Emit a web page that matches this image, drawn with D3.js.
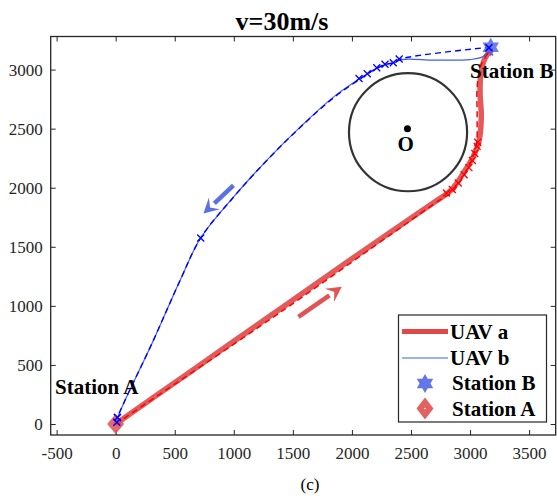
<!DOCTYPE html>
<html>
<head>
<meta charset="utf-8">
<script src="https://cdn.jsdelivr.net/npm/d3@7"></script>
<style>
  body { margin: 0; background: #fff; }
  text { font-family: "Liberation Serif", "Times New Roman", serif; }
</style>
</head>
<body>
<div id="chart"></div>
<script>
// data
var xTicks = [-500, 0, 500, 1000, 1500, 2000, 2500, 3000, 3500];
var yTicks = [0, 500, 1000, 1500, 2000, 2500, 3000];

var uavA = [[0, 0], [600, 420], [1200, 840], [1800, 1260], [2350, 1640], [2700, 1880],
    [2840, 1980], [2960, 2150], [3030, 2270], [3075, 2390], [3095, 2600], [3085, 2800],
    [3090, 2950], [3120, 3080], [3170, 3160]];
var uavAPlan = [[0, 0], [1400, 950], [2750, 1900], [2850, 1965], [2950, 2110], [3020, 2250],
    [3055, 2380], [3060, 2600], [3060, 2850], [3090, 3030], [3170, 3165]];
var uavAMarks = [[2800, 1955], [2850, 1985], [2900, 2040], [2950, 2110], [2990, 2170],
    [3020, 2230], [3040, 2290], [3060, 2350], [3065, 2385], [3165, 3150]];

var uavB = [[3175, 3190], [3110, 3110], [3000, 3085], [2700, 3080], [2420, 3085],
    [2350, 3055], [2280, 3040], [2210, 3010], [2125, 2960], [2054, 2915], [1843, 2767],
    [1561, 2513], [1279, 2232], [997, 1921], [720, 1575], [546, 1217], [320, 710],
    [15, 50], [10, 15]];
var uavBPlan = [[3175, 3190], [2420, 3092], [2350, 3058], [2280, 3043], [2210, 3012],
    [2125, 2958], [2054, 2910], [1843, 2760], [1561, 2510], [1279, 2230], [997, 1920],
    [720, 1575], [546, 1217], [320, 710], [15, 50], [10, 15]];
var uavBMarks = [[3160, 3185], [2400, 3090], [2350, 3058], [2280, 3045], [2210, 3015],
    [2130, 2965], [2060, 2925], [720, 1575], [15, 55], [10, 15]];

var stationA = [0, 0];
var stationB = [3175, 3190];
var obstacle = { cx: 2475, cy: 2470, r: 500 };
var centreO = [2470, 2500];
var arrowB = [[997, 2020], [743, 1781]];
var arrowA = [[1547, 907], [1914, 1161]];

var W = 557, H = 496;
var plotL = 50.7, plotR = 555.7, plotT = 36.5, plotB = 435;

var svg = d3.select("#chart").append("svg")
    .attr("width", W)
    .attr("height", H);

var x = d3.scaleLinear().domain([-550, 3725]).range([plotL, plotR]);
var y = d3.scaleLinear().domain([-93, 3280]).range([plotB, plotT]);

var axisColor = "#262626";
var fmt = function (d) { return String(d); };

// axes with inward ticks
var gx = svg.append("g")
    .attr("transform", "translate(0," + plotB + ")")
    .call(d3.axisBottom(x).tickValues(xTicks).tickFormat(fmt).tickSize(-5).tickSizeOuter(0).tickPadding(12));
var gy = svg.append("g")
    .attr("transform", "translate(" + plotL + ",0)")
    .call(d3.axisLeft(y).tickValues(yTicks).tickFormat(fmt).tickSize(-5).tickSizeOuter(0).tickPadding(8));
var gxt = svg.append("g")
    .attr("transform", "translate(0," + plotT + ")")
    .call(d3.axisTop(x).tickValues(xTicks).tickSize(-5).tickSizeOuter(0).tickFormat(""));
var gyr = svg.append("g")
    .attr("transform", "translate(" + plotR + ",0)")
    .call(d3.axisRight(y).tickValues(yTicks).tickSize(-5).tickSizeOuter(0).tickFormat(""));

[gx, gy, gxt, gyr].forEach(function (g) {
    g.select(".domain").remove();
    g.selectAll("line").attr("stroke", axisColor);
    g.selectAll("text").attr("fill", axisColor)
        .style("font-size", "17px")
        .style("font-family", "'Liberation Serif', serif");
});

svg.append("rect")
    .attr("x", plotL).attr("y", plotT)
    .attr("width", plotR - plotL).attr("height", plotB - plotT)
    .attr("fill", "none")
    .attr("stroke", axisColor)
    .attr("stroke-width", 1.3);

// obstacle
svg.append("circle")
    .attr("cx", x(obstacle.cx))
    .attr("cy", y(obstacle.cy))
    .attr("r", x(obstacle.cx + obstacle.r) - x(obstacle.cx))
    .attr("fill", "none")
    .attr("stroke", "#333")
    .attr("stroke-width", 2.2);
svg.append("circle")
    .attr("cx", x(centreO[0])).attr("cy", y(centreO[1]))
    .attr("r", 3.5).attr("fill", "#000");
svg.append("text")
    .attr("x", x(centreO[0]) - 10).attr("y", y(centreO[1]) + 22)
    .attr("font-weight", "bold").style("font-size", "21px")
    .text("O");

var line = d3.line()
    .x(function (d) { return x(d[0]); })
    .y(function (d) { return y(d[1]); })
    .curve(d3.curveCatmullRom.alpha(0.5));

// arrows
function arrow(pts, color) {
    var x0 = x(pts[0][0]), y0 = y(pts[0][1]), x1 = x(pts[1][0]), y1 = y(pts[1][1]);
    var a = Math.atan2(y1 - y0, x1 - x0), hl = 15, hw = 8;
    var bx = x1 - hl * Math.cos(a), by = y1 - hl * Math.sin(a);
    svg.append("line")
        .attr("x1", x0).attr("y1", y0).attr("x2", bx).attr("y2", by)
        .attr("stroke", color).attr("stroke-width", 4.5);
    svg.append("path")
        .attr("d", "M" + x1 + "," + y1 +
            "L" + (bx + hw * Math.sin(a)) + "," + (by - hw * Math.cos(a)) +
            "L" + (x1 - 0.6 * hl * Math.cos(a)) + "," + (y1 - 0.6 * hl * Math.sin(a)) +
            "L" + (bx - hw * Math.sin(a)) + "," + (by + hw * Math.cos(a)) + "Z")
        .attr("fill", color);
}
arrow(arrowB, "#5a70e4");
arrow(arrowA, "#e05454");

// UAV a
svg.append("path")
    .attr("d", line(uavA))
    .attr("fill", "none")
    .attr("stroke", "#e04848")
    .attr("stroke-opacity", 0.9)
    .attr("stroke-width", 5.5);
svg.append("path")
    .attr("d", line(uavAPlan))
    .attr("fill", "none")
    .attr("stroke", "#ff0000")
    .attr("stroke-width", 1.5)
    .attr("stroke-dasharray", "6,4");

// UAV b
svg.append("path")
    .attr("d", line(uavB))
    .attr("fill", "none")
    .attr("stroke", "#3f5ff0")
    .attr("stroke-width", 1.2);
svg.append("path")
    .attr("d", line(uavBPlan))
    .attr("fill", "none")
    .attr("stroke", "#0000ff")
    .attr("stroke-width", 1.4)
    .attr("stroke-dasharray", "6,4");

function cross(sel, pts, color) {
    sel.selectAll(null).data(pts).enter().append("path")
        .attr("d", function (d) {
            var cx = x(d[0]), cy = y(d[1]), s = 3.5;
            return "M" + (cx - s) + "," + (cy - s) + "L" + (cx + s) + "," + (cy + s) +
                "M" + (cx - s) + "," + (cy + s) + "L" + (cx + s) + "," + (cy - s);
        })
        .attr("stroke", color)
        .attr("stroke-width", 1.3);
}
cross(svg, uavAMarks, "#ff0000");
cross(svg, uavBMarks, "#0000ff");

function hexagram(cx, cy, R) {
    var r = R / Math.sqrt(3), p = [];
    for (var i = 0; i < 12; i++) {
        var rr = i % 2 === 0 ? R : r;
        var a = -Math.PI / 2 + i * Math.PI / 6;
        p.push([cx + rr * Math.cos(a), cy + rr * Math.sin(a)]);
    }
    return "M" + p.join("L") + "Z";
}
function diamond(cx, cy, w, h) {
    return "M" + cx + "," + (cy - h) + "L" + (cx + w) + "," + cy +
        "L" + cx + "," + (cy + h) + "L" + (cx - w) + "," + cy + "Z";
}

var starColor = "#5468e6", diaColor = "#e05050";

svg.append("path")
    .attr("d", hexagram(x(stationB[0]), y(stationB[1]), 9.5))
    .attr("fill", starColor).attr("fill-opacity", 0.85);
svg.append("path")
    .attr("d", diamond(x(stationA[0]), y(stationA[1]), 8.5, 10))
    .attr("fill", diaColor).attr("fill-opacity", 0.85);
// redraw crosses on top of the station marks
cross(svg, [uavBMarks[0], uavBMarks[uavBMarks.length - 1], uavBMarks[uavBMarks.length - 2]], "#0000ff");

// labels
svg.append("text")
    .attr("x", 470).attr("y", 78)
    .attr("font-weight", "bold").style("font-size", "21px")
    .text("Station B");
svg.append("text")
    .attr("x", 55).attr("y", 394)
    .attr("font-weight", "bold").style("font-size", "21px")
    .text("Station A");

svg.append("text")
    .attr("x", 282).attr("y", 30)
    .attr("text-anchor", "middle")
    .attr("font-weight", "bold").style("font-size", "26px")
    .text("v=30m/s");
svg.append("text")
    .attr("x", 310).attr("y", 490)
    .attr("text-anchor", "middle")
    .style("font-size", "17px")
    .text("(c)");

// legend
var lg = svg.append("g");
lg.append("rect")
    .attr("x", 398.5).attr("y", 315)
    .attr("width", 148).attr("height", 107)
    .attr("fill", "#fff")
    .attr("stroke", axisColor)
    .attr("stroke-width", 1.2);
lg.append("line").attr("x1", 402).attr("x2", 448).attr("y1", 331.5).attr("y2", 331.5)
    .attr("stroke", "#e04848").attr("stroke-width", 5);
lg.append("line").attr("x1", 402).attr("x2", 448).attr("y1", 358).attr("y2", 358)
    .attr("stroke", "#3f5ff0").attr("stroke-width", 1.2);
lg.append("path").attr("d", hexagram(425, 383.5, 9.5))
    .attr("fill", starColor).attr("fill-opacity", 0.9);
lg.append("path").attr("d", diamond(425, 408.5, 8.5, 11))
    .attr("fill", diaColor).attr("fill-opacity", 0.9);
lg.append("circle").attr("cx", 425).attr("cy", 408.5).attr("r", 0.8).attr("fill", "#fff");

var legendText = ["UAV a", "UAV b", "Station B", "Station A"];
lg.selectAll(null).data(legendText).enter().append("text")
    .attr("x", function (d, i) { return i < 2 ? 450 : 452; })
    .attr("y", function (d, i) { return 339 + i * 25.5; })
    .attr("font-weight", "bold").style("font-size", "21px")
    .text(function (d) { return d; });
</script>
</body>
</html>
